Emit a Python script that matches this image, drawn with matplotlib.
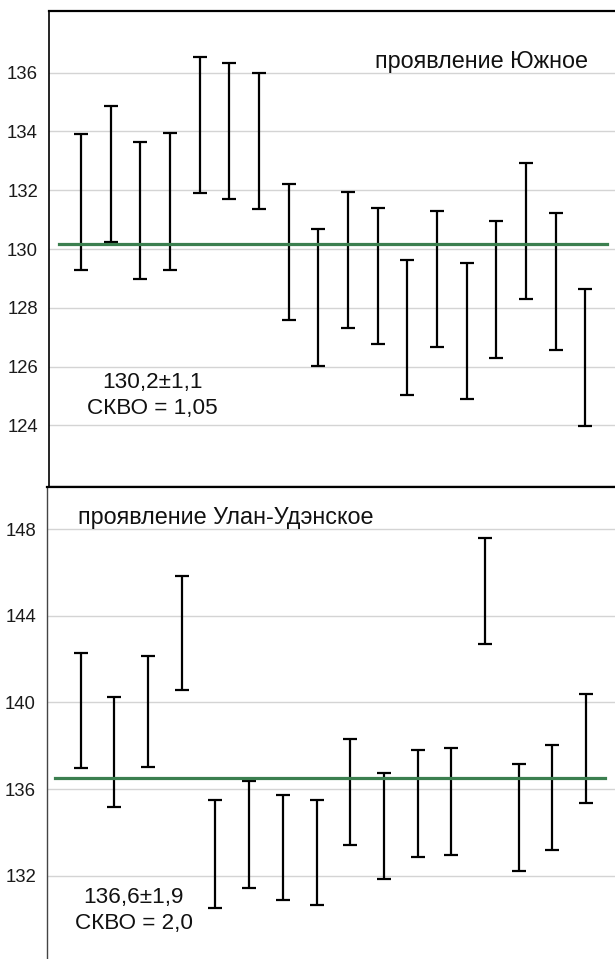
import matplotlib.pyplot as plt
import numpy as np

plt.rcParams['font.family'] = ['Liberation Sans', 'DejaVu Sans']

# Southern occurrence: lower / upper ends of each age interval
south_lo = [129.27, 130.24, 128.99, 129.30, 131.90, 131.69, 131.35, 127.57, 126.02,
            127.31, 126.76, 125.02, 126.68, 124.88, 126.29, 128.29, 126.57, 123.99]
south_hi = [133.90, 134.88, 133.64, 133.94, 136.54, 136.34, 135.98, 132.21, 130.67,
            131.95, 131.41, 129.64, 131.31, 129.53, 130.94, 132.94, 131.21, 128.63]
south_mean = 130.16
south_ticks = [124, 126, 128, 130, 132, 134, 136]

# Ulan-Ude occurrence
ulan_lo = [136.96, 135.16, 137.01, 140.58, 130.52, 131.42, 130.86, 130.63,
           133.40, 131.83, 132.88, 132.94, 142.69, 132.23, 133.19, 135.36]
ulan_hi = [142.30, 140.24, 142.15, 145.86, 135.50, 136.37, 135.71, 135.48,
           138.31, 136.74, 137.79, 137.90, 147.61, 137.16, 138.04, 140.39]
ulan_mean = 136.53
ulan_ticks = [132, 136, 140, 144, 148]

green = '#3b7f4f'
W, H = 615, 959
fig = plt.figure(figsize=(W / 100, H / 100), dpi=100)

def add_panel(rect, lo, hi, mean, ticks, ylim, xlim, title, title_xy, title_ha, stats, stats_xy, line_x):
    ax = fig.add_axes(rect)
    lo = np.array(lo)
    hi = np.array(hi)
    x = np.arange(1, len(lo) + 1)
    ax.errorbar(x, (lo + hi) / 2, yerr=(hi - lo) / 2, fmt='none', ecolor='black',
                elinewidth=1.6, capsize=5, capthick=1.6, zorder=3)
    ax.plot(line_x, [mean, mean], color=green, lw=2.3, zorder=4)
    ax.set_xlim(*xlim)
    ax.set_ylim(*ylim)
    ax.set_yticks(ticks)
    ax.set_xticks([])
    ax.grid(axis='y', color='#d4d4d4', lw=1)
    ax.set_axisbelow(True)
    ax.tick_params(axis='y', length=0, pad=8, labelsize=13.3, labelcolor='#1a1a1a')
    ax.text(title_xy[0], title_xy[1], title, transform=ax.transAxes, fontsize=16.8,
            ha=title_ha, va='center', color='#111111')
    ax.text(stats_xy[0], stats_xy[1], stats, transform=ax.transAxes, fontsize=16.2,
            ha='center', va='center', linespacing=1.3, color='#111111')
    return ax

# top panel: axes from x=49 to 615, y=11 to 487 px
ax1 = add_panel([49 / W, 1 - 487 / H, (W - 49) / W, 476 / H],
                south_lo, south_hi, south_mean, south_ticks, (121.9, 138.1), (-0.08, 19.0),
                'проявление Южное', (0.952, 0.893), 'right',
                '130,2±1,1\nСКВО = 1,05', (0.182, 0.193), [0.27, 18.73])
ax1.spines['right'].set_visible(False)
for s in ['top', 'bottom']:
    ax1.spines[s].set_linewidth(1.6)
ax1.spines['left'].set_linewidth(1.2)

# bottom panel: axes from x=47 to 615, y=487 to image bottom
ax2 = add_panel([47 / W, 0, (W - 47) / W, 1 - 487 / H],
                ulan_lo, ulan_hi, ulan_mean, ulan_ticks, (128.15, 149.95), (0.0, 16.86),
                'проявление Улан-Удэнское', (0.055, 0.935), 'left',
                '136,6±1,9\nСКВО = 2,0', (0.153, 0.102), [0.24, 16.56])
ax2.spines['right'].set_visible(False)
ax2.spines['bottom'].set_visible(False)
ax2.spines['top'].set_linewidth(1.6)
ax2.spines['left'].set_linewidth(1.0)
ax2.spines['left'].set_color('#444444')

fig.savefig('out.png', dpi=100)
